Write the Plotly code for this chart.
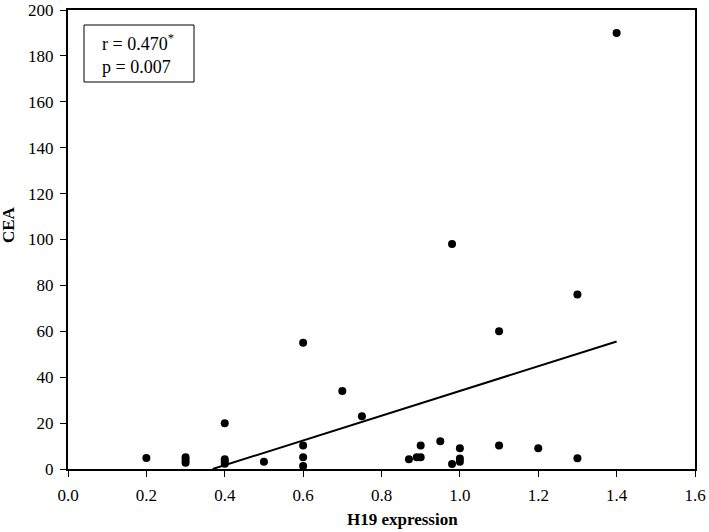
import plotly.graph_objects as go

# H19 expression vs CEA
h19 = [0.2, 0.3, 0.3, 0.3, 0.4, 0.4, 0.4, 0.4, 0.5, 0.6, 0.6, 0.6, 0.6,
       0.7, 0.75, 0.87, 0.89, 0.9, 0.9, 0.95, 0.98, 0.98, 1.0, 1.0, 1.0,
       1.1, 1.1, 1.2, 1.3, 1.3, 1.4]
cea = [4.8, 5.1, 3.9, 2.7, 19.9, 4.2, 3.2, 2.3, 3.2, 55, 10.2, 5.1, 1.3,
       34, 23, 4.2, 5.1, 5.1, 10.2, 12.1, 2.2, 98, 9.0, 4.6, 3.2,
       60, 10.2, 9.0, 76, 4.7, 190]

# regression line
slope = 53.9
intercept = -19.9
trend_x = [-intercept / slope, 1.4]
trend_y = [slope * x + intercept for x in trend_x]

x_ticks = [0.0, 0.2, 0.4, 0.6, 0.8, 1.0, 1.2, 1.4, 1.6]
y_ticks = [0, 20, 40, 60, 80, 100, 120, 140, 160, 180, 200]

font = "Liberation Serif, Times New Roman, serif"

L, R, T, B = 68, 14, 10, 63
PW, PH = 709 - L - R, 532 - T - B


def px(x):
    return (x - L) / PW


def py(y):
    return (532 - B - y) / PH


fig = go.Figure()
fig.add_trace(go.Scatter(x=trend_x, y=trend_y, mode="lines",
                         line=dict(color="black", width=2), showlegend=False,
                         hoverinfo="skip"))
fig.add_trace(go.Scatter(x=h19, y=cea, mode="markers",
                         marker=dict(color="black", size=8), showlegend=False))

fig.update_layout(
    width=709, height=532,
    margin=dict(l=L, r=R, t=T, b=B),
    paper_bgcolor="white", plot_bgcolor="white",
    font=dict(family=font, size=17, color="black"),
    xaxis=dict(range=[0, 1.6], tickvals=x_ticks,
               ticktext=[f"{v:.1f}" for v in x_ticks],
               showgrid=False, zeroline=False, automargin=False,
               showline=True, linecolor="black", linewidth=2, mirror=True,
               ticks="outside", ticklen=6, tickwidth=1, tickcolor="black",
               ticklabelstandoff=4,
               tickfont=dict(family=font, size=17)),
    yaxis=dict(range=[0, 200], tickvals=y_ticks,
               showgrid=False, zeroline=False, automargin=False,
               showline=True, linecolor="black", linewidth=2, mirror=True,
               ticks="outside", ticklen=6, tickwidth=1, tickcolor="black",
               ticklabelstandoff=3,
               tickfont=dict(family=font, size=17)),
)

# axis titles
fig.add_annotation(xref="paper", yref="paper", x=px(402), y=py(519),
                   xanchor="center", yanchor="middle", showarrow=False,
                   text="<b>H19 expression</b>",
                   font=dict(family=font, size=17, color="black"))
fig.add_annotation(xref="paper", yref="paper", x=px(9), y=py(225),
                   xanchor="center", yanchor="middle", showarrow=False,
                   textangle=-90, text="<b>CEA</b>",
                   font=dict(family=font, size=17, color="black"))

# statistics box
fig.add_shape(type="rect", xref="paper", yref="paper",
              x0=px(84), x1=px(194), y0=py(82), y1=py(25),
              line=dict(color="black", width=1), fillcolor="white")
fig.add_annotation(xref="paper", yref="paper",
                   x=px(138), y=py(54),
                   xanchor="center", yanchor="middle",
                   text="r = 0.470<sup>*</sup><br>p = 0.007",
                   showarrow=False, align="left",
                   font=dict(family=font, size=18, color="black"))

fig.write_html("out.html", config={"displayModeBar": False},
               post_script="document.body.style.margin='0';")
